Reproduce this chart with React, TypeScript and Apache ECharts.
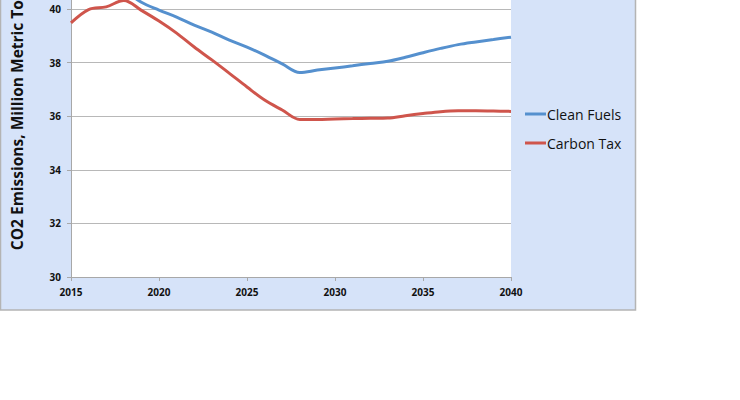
import React, { useEffect, useRef } from "react";
import * as echarts from "echarts";

const years = [2015, 2016, 2017, 2018, 2019, 2020, 2021, 2022, 2023, 2024, 2025, 2026, 2027, 2028, 2029, 2030, 2031, 2032, 2033, 2034, 2035, 2036, 2037, 2038, 2039, 2040];
const cleanFuels = [40.9, 41.1, 41.0, 40.7, 40.25, 39.96, 39.7, 39.4, 39.14, 38.84, 38.58, 38.28, 37.95, 37.63, 37.72, 37.8, 37.88, 37.97, 38.05, 38.2, 38.37, 38.53, 38.67, 38.77, 38.86, 38.95];
const carbonTax = [39.48, 39.98, 40.08, 40.32, 39.95, 39.55, 39.1, 38.58, 38.1, 37.6, 37.09, 36.6, 36.23, 35.88, 35.88, 35.9, 35.91, 35.92, 35.93, 36.02, 36.1, 36.17, 36.2, 36.2, 36.19, 36.18];
const seriesNames = ["Clean Fuels", "Carbon Tax"];
const yAxisName = "CO2 Emissions, Million Metric Tons";

const FONT = "'Open Sans', Lato, sans-serif";
const SHIFT = 60; // chart canvas extends above the visible page (the reference is cropped at the top)

export default function App() {
  const ref = useRef<HTMLDivElement>(null);
  useEffect(() => {
    if (!ref.current) return;
    const chart = echarts.init(ref.current, null, { renderer: "svg" });
    chart.setOption({
      animation: false,
      graphic: [
        {
          type: "rect",
          z: -10,
          silent: true,
          shape: { x: 0.5, y: 0, width: 635, height: 310 + SHIFT },
          style: { fill: "#D6E3F9", stroke: "#B4B4B4", lineWidth: 1.5 },
        },
      ],
      grid: {
        left: 71,
        right: 740 - 511,
        top: SHIFT - 44.6,
        bottom: 400 + SHIFT - (277 + SHIFT),
        show: true,
        backgroundColor: "#FFFFFF",
        borderWidth: 0,
        containLabel: false,
        outerBoundsMode: "none",
      },
      legend: {
        orient: "vertical",
        left: 525,
        top: 107 + SHIFT,
        padding: 0,
        itemWidth: 21,
        itemHeight: 3,
        itemGap: 15,
        icon: "rect",
        textStyle: { fontFamily: FONT, fontSize: 14, color: "#111", padding: [0, 0, 0, -4] },
        data: seriesNames,
      },
      xAxis: {
        type: "value",
        min: 2015,
        max: 2040,
        interval: 5,
        axisLine: { show: true, lineStyle: { color: "#A8A8A8", width: 1 } },
        axisTick: { show: true, length: 4, inside: false, lineStyle: { color: "#A8A8A8" } },
        splitLine: { show: false },
        axisLabel: {
          fontFamily: FONT,
          fontSize: 10,
          fontWeight: "bold",
          color: "#111",
          margin: 10,
          formatter: (v: number) => String(v),
        },
      },
      yAxis: {
        type: "value",
        min: 30,
        max: 42,
        interval: 2,
        name: yAxisName,
        nameLocation: "middle",
        nameGap: 46,
        nameRotate: 90,
        nameTextStyle: { fontFamily: FONT, fontSize: 15.5, fontWeight: "bold", color: "#111" },
        axisLine: { show: true, lineStyle: { color: "#A8A8A8", width: 1 } },
        axisTick: { show: true, length: 4, lineStyle: { color: "#A8A8A8" } },
        splitLine: { show: true, lineStyle: { color: "#B8B8B8", width: 1 } },
        axisLabel: {
          fontFamily: FONT,
          fontSize: 10,
          fontWeight: "bold",
          color: "#111",
          margin: 10,
        },
      },
      series: [
        {
          name: seriesNames[0],
          type: "line",
          data: years.map((y, i) => [y, cleanFuels[i]]),
          smooth: 0.35,
          showSymbol: false,
          lineStyle: { color: "#5590CE", width: 3 },
          itemStyle: { color: "#5590CE" },
        },
        {
          name: seriesNames[1],
          type: "line",
          data: years.map((y, i) => [y, carbonTax[i]]),
          smooth: 0.35,
          showSymbol: false,
          lineStyle: { color: "#CF554C", width: 3 },
          itemStyle: { color: "#CF554C" },
        },
      ],
    });
    return () => chart.dispose();
  }, []);
  return (
    <div
      ref={ref}
      style={{ position: "absolute", left: 0, top: -SHIFT, width: 740, height: 400 + SHIFT, background: "#FFFFFF" }}
    />
  );
}
